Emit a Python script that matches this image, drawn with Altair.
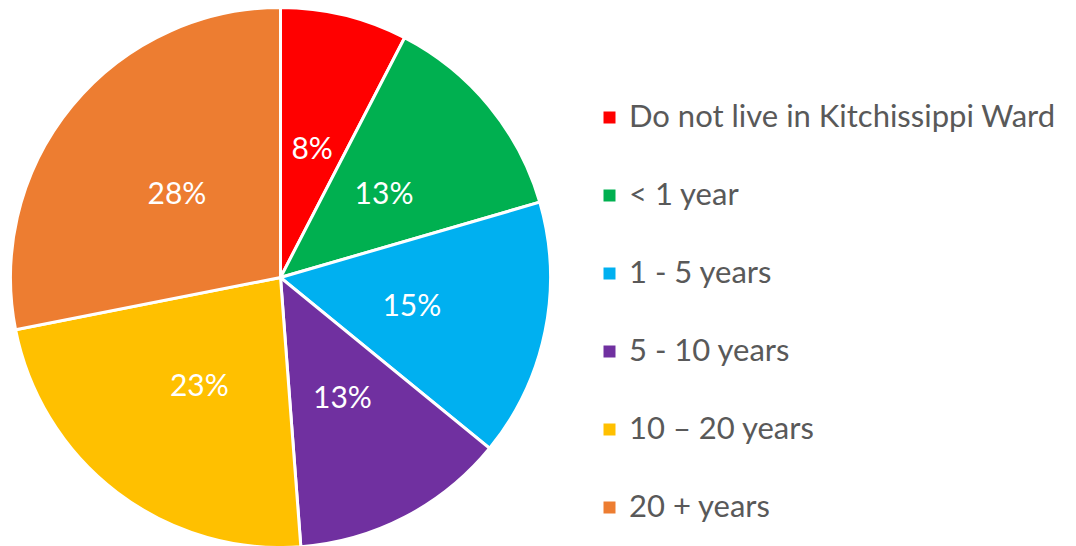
import altair as alt
import pandas as pd

categories = ["Do not live in Kitchissippi Ward", "< 1 year", "1 - 5 years",
              "5 - 10 years", "10 \u2013 20 years", "20 + years"]
values = [7.6, 12.9, 15.4, 12.9, 23.1, 28.1]
labels = ["8%", "13%", "15%", "13%", "23%", "28%"]
colors = ["#FF0000", "#00B050", "#00B0F0", "#7030A0", "#FFC000", "#ED7D31"]

df = pd.DataFrame({"category": categories, "value": values,
                   "label": labels, "idx": list(range(len(categories)))})

CX, CY = 272.5, 269.5

base = alt.Chart(df).encode(
    theta=alt.Theta("value:Q", stack=True),
    order=alt.Order("idx:Q", sort="ascending"),
    x=alt.value(CX),
    y=alt.value(CY),
)

pie = base.mark_arc(outerRadius=270, stroke="white", strokeWidth=3).encode(
    color=alt.Color(
        "category:N",
        scale=alt.Scale(domain=categories, range=colors),
        sort=categories,
        legend=alt.Legend(
            title=None,
            orient="none",
            legendX=586,
            legendY=94,
            symbolType="square",
            symbolSize=144,
            symbolStrokeWidth=0,
            symbolOpacity=1,
            labelFont="Lato",
            labelFontSize=31,
            labelColor="#595959",
            labelOffset=4,
            labelLimit=600,
            rowPadding=46,
            padding=0,
        ),
    )
)

text = base.mark_text(radius=134, font="Lato", fontSize=30, color="white",
                      align="center", baseline="middle", dy=3).encode(
    text="label:N"
)

chart = (pie + text).properties(
    width=1060, height=538,
    autosize=alt.AutoSizeParams(type="none"),
    padding=0,
).configure_view(stroke=None)

chart.save("out.html", embed_options={"renderer": "svg", "actions": False})
